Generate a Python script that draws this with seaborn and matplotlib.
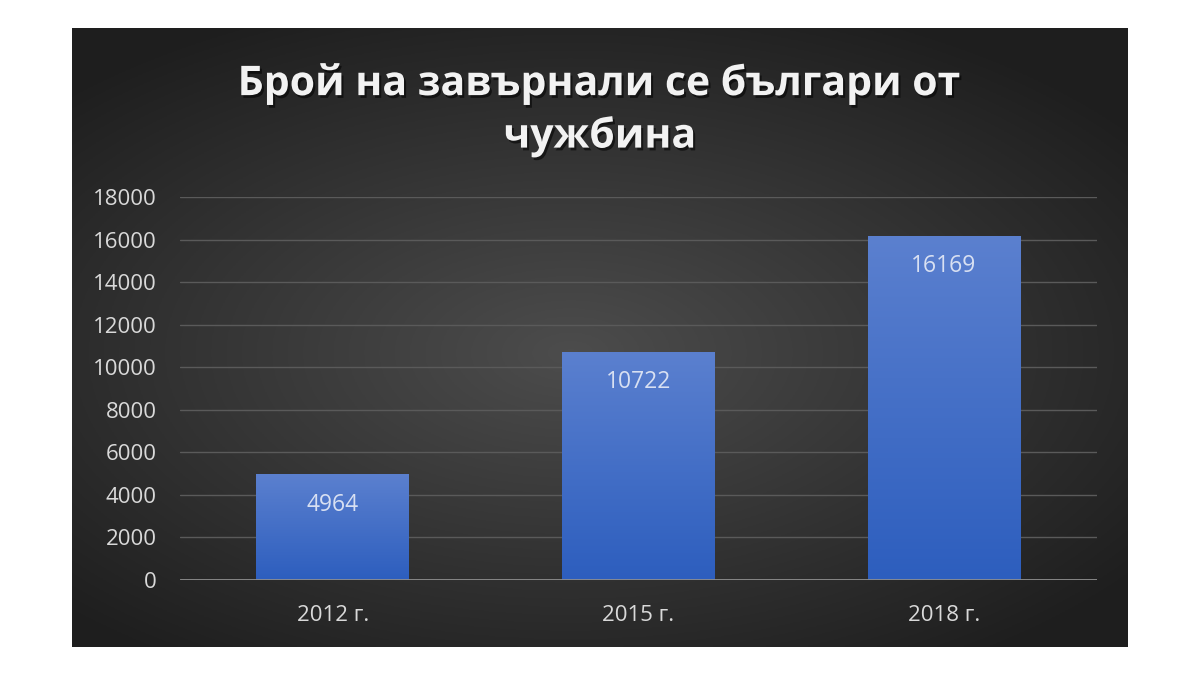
import numpy as np
import pandas as pd
import matplotlib
matplotlib.use('Agg')
import matplotlib.pyplot as plt
import matplotlib.patheffects as pe
import seaborn as sns

# data
years = ['2012 г.', '2015 г.', '2018 г.']
returned = [4964, 10722, 16169]
y_ticks = [0, 2000, 4000, 6000, 8000, 10000, 12000, 14000, 16000, 18000]
title = 'Брой на завърнали се българи от\nчужбина'

df = pd.DataFrame({'year': years, 'count': returned})

sns.set_theme(style='dark')
plt.rcParams['font.family'] = ['Open Sans', 'DejaVu Sans']

fig = plt.figure(figsize=(12, 6.75), dpi=100)
fig.patch.set_facecolor('white')

# dark panel with a soft radial gradient
bg = fig.add_axes([0.06, 0.0415, 0.88, 0.917])
gx, gy = np.meshgrid(np.linspace(-1, 1, 400), np.linspace(-1, 1, 250))
r = np.sqrt((gx * 0.9 + 0.05) ** 2 + (gy - 0.05) ** 2)
shade = np.clip(0.30 - 0.15 * r, 0.12, 0.31)
bg.imshow(np.dstack([shade, shade, shade]), aspect='auto', extent=[0, 1, 0, 1])
bg.set_axis_off()

ax = fig.add_axes([0.15, 0.1407, 0.764, 0.5673])
ax.set_facecolor('none')
sns.barplot(data=df, x='year', y='count', color='#3a67c6', width=0.5, ax=ax,
            saturation=1, zorder=3)

ax.set_ylim(0, 18000)
ax.set_yticks(y_ticks)
ax.set_xlim(-0.5, 2.5)

# blue vertical gradient on each bar
grad = np.linspace(0, 1, 256).reshape(-1, 1)
top_c = np.array([0x5b, 0x80, 0xcf]) / 255
bot_c = np.array([0x2d, 0x5e, 0xbe]) / 255
img = top_c * (1 - grad[..., None]) + bot_c * grad[..., None]
for p in ax.patches:
    x0, w, h = p.get_x(), p.get_width(), p.get_height()
    im = ax.imshow(img, extent=[x0, x0 + w, 0, h], aspect='auto', zorder=3)
    im.set_clip_path(p)
    p.set_facecolor('none')
    p.set_edgecolor('none')
    ax.text(x0 + w / 2, h - 850, f'{int(h)}', ha='center', va='top',
            fontsize=16.5, color='#d8e0f2', zorder=5)
ax.set_xlim(-0.5, 2.5)
ax.set_ylim(0, 18000)

ax.grid(axis='y', color='#5a5a5a', linewidth=1, zorder=0)
ax.grid(axis='x', visible=False)
ax.axhline(0, color='#8e8e8e', linewidth=2, zorder=4)
for s in ax.spines.values():
    s.set_visible(False)
ax.tick_params(axis='y', length=0, labelsize=16, colors='#d9d9d9', pad=17)
ax.tick_params(axis='x', length=0, labelsize=16, colors='#d9d9d9', pad=18)
ax.set_xlabel('')
ax.set_ylabel('')

fig.text(0.5, 0.837, title, ha='center', va='center', fontsize=29.5,
         fontweight='bold', color='#f2f2f2', linespacing=1.3,
         path_effects=[pe.withSimplePatchShadow(offset=(1.5, -2), shadow_rgbFace='black', alpha=0.55)])

fig.savefig('out.png', dpi=100, facecolor=fig.get_facecolor())
